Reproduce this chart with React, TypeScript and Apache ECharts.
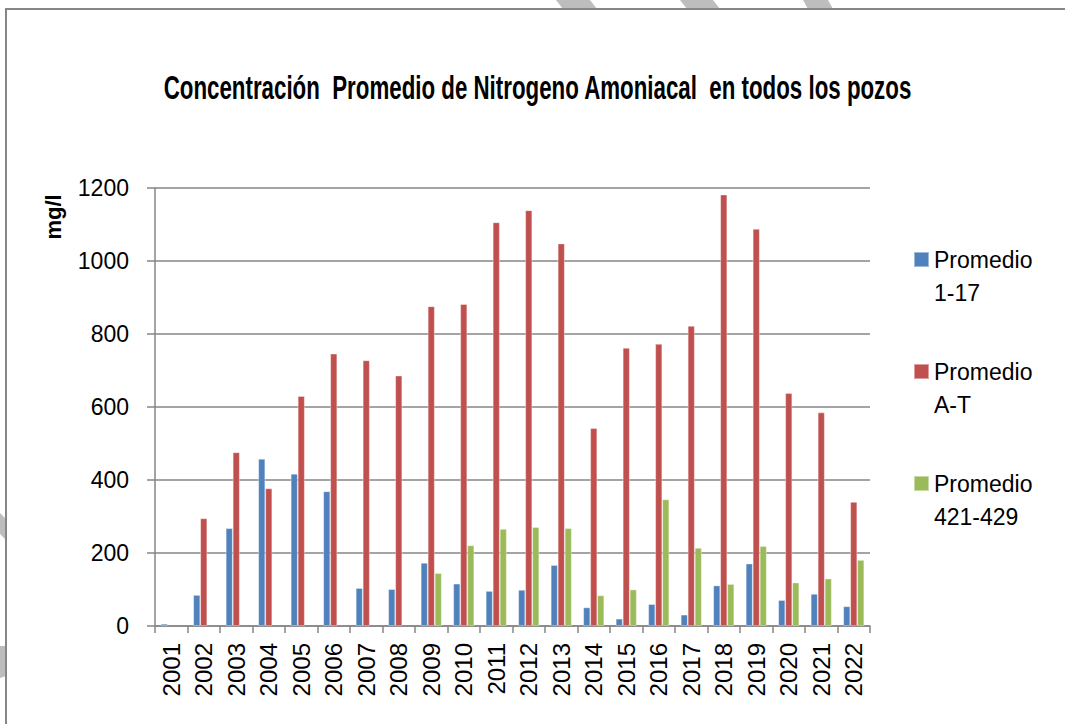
import React, { useEffect, useRef } from "react";
import * as echarts from "echarts";

const years = [
  "2001", "2002", "2003", "2004", "2005", "2006", "2007", "2008", "2009", "2010", "2011",
  "2012", "2013", "2014", "2015", "2016", "2017", "2018", "2019", "2020", "2021", "2022",
];
const promedio1_17 = [6, 85, 268, 458, 417, 369, 104, 101, 173, 116, 96, 99, 167, 51, 20, 60, 31, 111, 171, 71, 88, 54];
const promedioAT = [null, 295, 476, 377, 630, 746, 728, 686, 876, 882, 1106, 1139, 1048, 542, 762, 773, 822, 1182, 1088, 638, 585, 340];
const promedio421_429 = [null, null, null, null, null, null, null, null, 145, 221, 266, 271, 268, 84, 100, 347, 214, 115, 219, 119, 130, 181];
const seriesNames = ["Promedio 1-17", "Promedio A-T", "Promedio 421-429"];
const seriesColors = ["#4F81BD", "#C0504D", "#9BBB59"];
const yMin = 0;
const yMax = 1200;
const yInterval = 200;
const titleText = "Concentración  Promedio de Nitrogeno Amoniacal  en todos los pozos";
const yAxisTitle = "mg/l";

const FONT = "'Liberation Sans', Arial, sans-serif";

function measure(text: string, font: string): number {
  const c = document.createElement("canvas");
  const ctx = c.getContext("2d");
  if (!ctx) return text.length * 16;
  ctx.font = font;
  return ctx.measureText(text).width;
}

export default function App() {
  const ref = useRef<HTMLDivElement>(null);
  useEffect(() => {
    if (!ref.current) return;
    const chart = echarts.init(ref.current, null, { renderer: "svg" });
    const titleSize = 34;
    const titleW = measure(titleText, `bold ${titleSize}px 'Liberation Sans'`);
    const titleScale = 749 / titleW;
    const grey = "#BDBDBD";
    const data = [promedio1_17, promedioAT, promedio421_429];
    chart.setOption({
      animation: false,
      backgroundColor: "#ffffff",
      grid: { left: 155, right: 195, top: 188, bottom: 98 },
      legend: {
        orient: "vertical",
        left: 913,
        top: 210,
        padding: 0,
        itemWidth: 15,
        itemHeight: 15,
        itemGap: 13,
        icon: "rect",
        data: seriesNames,
        formatter: (name: string) => " \n" + name.replace(" ", "\n"),
        textStyle: {
          fontFamily: FONT,
          fontSize: 23,
          lineHeight: 33,
          color: "#000",
        },
      },
      xAxis: {
        type: "category",
        data: years,
        boundaryGap: true,
        axisLine: { show: true, lineStyle: { color: "#868686", width: 1.5 } },
        axisTick: { show: true, interval: 0, alignWithLabel: false, length: 7, lineStyle: { color: "#868686", width: 1.5 } },
        axisLabel: { interval: 0, rotate: 90, margin: 17, fontFamily: FONT, fontSize: 24, color: "#000" },
        splitLine: { show: false },
      },
      yAxis: {
        type: "value",
        min: yMin,
        max: yMax,
        interval: yInterval,
        axisLine: { show: true, lineStyle: { color: "#868686", width: 1.5 } },
        axisTick: { show: true, length: 8, lineStyle: { color: "#868686", width: 1.5 } },
        axisLabel: {
          margin: 26,
          fontFamily: FONT,
          fontSize: 23,
          color: "#000",
          formatter: (v: number) => String(v),
        },
        splitLine: { show: true, lineStyle: { color: "#868686", width: 1.5 } },
      },
      series: seriesNames.map((name, i) => ({
        name,
        type: "bar",
        data: data[i],
        barWidth: 7,
        barGap: "0%",
        itemStyle: { color: seriesColors[i], borderColor: "rgba(255,255,255,0.45)", borderWidth: 0.8 },
      })),
      graphic: [
        { type: "polygon", shape: { points: [[556, 0], [590, 0], [597, 9], [563, 9]] }, style: { fill: grey }, silent: true },
        { type: "polygon", shape: { points: [[680, 0], [713, 0], [720, 9], [687, 9]] }, style: { fill: grey }, silent: true },
        { type: "polygon", shape: { points: [[803, 0], [828, 0], [833, 9], [808, 9]] }, style: { fill: grey }, silent: true },
        { type: "polygon", shape: { points: [[0, 513], [6, 519], [6, 540], [0, 534]] }, style: { fill: grey }, silent: true },
        { type: "polygon", shape: { points: [[0, 646], [6, 646], [6, 676], [0, 678]] }, style: { fill: grey }, silent: true },
        {
          type: "rect",
          shape: { x: 6, y: 9, width: 1200, height: 900 },
          style: { fill: "none", stroke: "#868686", lineWidth: 2 },
          silent: true,
        },
        {
          type: "text",
          x: 537.5,
          y: 87,
          scaleX: titleScale,
          scaleY: 1,
          style: {
            text: titleText,
            fontFamily: FONT,
            fontSize: titleSize,
            fontWeight: "bold",
            fill: "#000",
            align: "center",
            verticalAlign: "middle",
          },
        },
        {
          type: "text",
          x: 53,
          y: 217,
          rotation: Math.PI / 2,
          style: {
            text: yAxisTitle,
            fontFamily: FONT,
            fontSize: 22,
            fontWeight: "bold",
            fill: "#000",
            align: "center",
            verticalAlign: "middle",
          },
        },
      ],
    });
    return () => chart.dispose();
  }, []);
  return (
    <div
      ref={ref}
      style={{ position: "absolute", left: 0, top: 0, width: 1065, height: 724 }}
    />
  );
}
